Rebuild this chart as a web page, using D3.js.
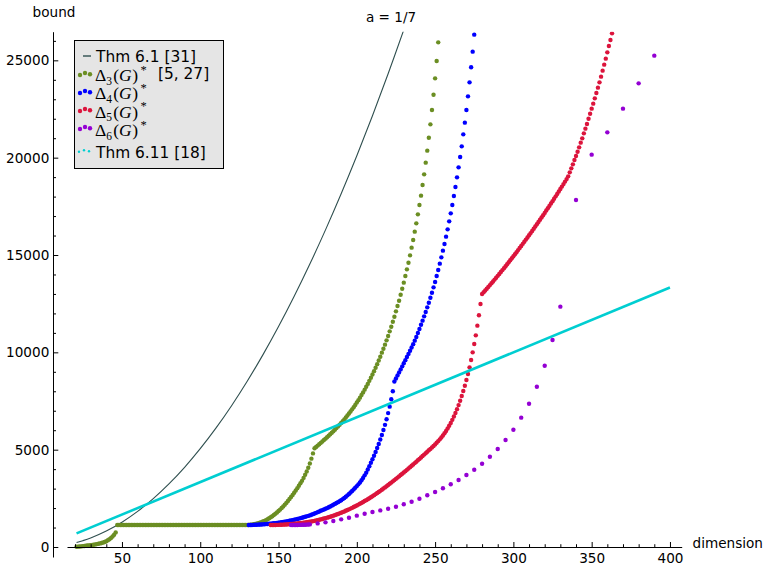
<!DOCTYPE html>
<html><head><meta charset="utf-8">
<script src="https://cdn.jsdelivr.net/npm/d3@7"></script>
<style>
body{margin:0;background:#fff}
svg{display:block}
</style>
</head><body>
<svg id="c" width="766" height="568" font-family="DejaVu Sans"></svg>
<script>
// ---------------- data ----------------
const titleText = "a = 1/7";
const xLabel = "dimension";
const yLabel = "bound";
const xTicks = [50, 100, 150, 200, 250, 300, 350, 400];
const xMinorTicks = [20,30,40,60,70,80,90,110,120,130,140,160,170,180,190,210,220,230,240,260,270,280,290,310,320,330,340,360,370,380,390];
const yTicks = [0, 5000, 10000, 15000, 20000, 25000];
const yMinorTicks = [1000,2000,3000,4000,6000,7000,8000,9000,11000,12000,13000,14000,16000,17000,18000,19000,21000,22000,23000,24000,26000];

// Thm 6.1 [31]
const thm61Dims = [21,25,30,40,50,60,70,80,90,100,110,120,130,140,150,160,170,180,190,200,210,220,230];
const thm61Vals = [231,325,465,820,1275,1830,2485,3240,4095,5050,6105,7260,8515,9870,11325,12880,14535,16290,18145,20100,22155,24310,26565];

// Thm 6.11 [18]
const thm611Dims = [21, 400];
const thm611Vals = [700, 13333];

// Delta_3(G)*  (one value per dimension, starting at delta3Start)
const delta3Start = 21;
const delta3Vals = [
15,20,25,35,45,55,65,75,85,95,105,120,135,150,165,185,205,230,260,295,345,400,465,540,630,750,
1130,1130,1130,1130,1130,1130,1130,1130,1130,1130,1130,1130,1130,1130,1130,1130,1130,1130,1130,1130,
1130,1130,1130,1130,1130,1130,1130,1130,1130,1130,1130,1130,1130,1130,1130,1130,1130,1130,1130,1130,
1130,1130,1130,1130,1130,1130,1130,1130,1130,1130,1130,1130,1130,1130,1130,1130,1130,1130,1130,1130,
1130,1130,1130,1130,1130,1130,1130,1130,1130,1130,1130,1130,1130,1130,1130,1130,1130,1130,1130,1130,
1130,1130,1130,1130,
1130,1140,1152,1166,1182,1200,1222,1247,1275,1307,1343,1383,1427,1475,1527,1583,1643,1707,1775,1847,
1923,2003,2087,2175,2267,2363,2463,2567,2675,2787,2903,3023,3147,3275,3400,3550,3710,3880,4070,4290,4540,4810,
5070,5140,5210,5280,5351,5422,5494,5567,5640,5715,5791,5869,5948,6028,6111,6195,6282,6371,6462,6556,
6653,6753,6856,6962,7071,7184,7300,7420,7544,7672,7805,7942,8083,8229,8380,8535,8696,8862,9034,9211,9394,9583,
9777,9983,10188,10394,10617,10839,11079,11318,11575,11832,12106,12380,12654,12962,13270,13579,13921,14264,14606,14983,
15377,15771,16199,16627,17089,17569,18048,18596,19144,19743,20360,21027,21712,22449,23236,24075,24966,25925
];

// Delta_4(G)*
const delta4Start = 131;
const delta4Vals = [
1130,1132,1134,1137,1140,1144,1148,1153,1159,1165,1171,1178,1185,1192,1200,1209,1218,1228,1239,1250,
1262,1274,1287,1301,1315,1330,1346,1363,1381,1400,1419,1439,1460,1482,1505,1528,1551,1575,1600,1625,
1656,1688,1721,1755,1790,
1825,1860,1895,1930,1965,2000,2040,2080,2125,2170,2215,2260,2305,2355,2405,2460,2520,2585,2655,2725,
2800,2880,2960,3045,3130,3220,3320,3430,3550,3680,3820,3980,4150,4330,4505,4690,4880,5085,5295,5520,
5755,6010,6275,6565,6880,7210,7590,8000,
8500,8660,8815,8970,9125,9280,9440,9600,9760,9920,10085,10250,10420,10600,10790,10990,11200,
11421,11627,11850,12072,12312,12551,12808,13065,13339,13613,13921,14229,14555,14880,15223,15565,15942,16319,16730,17140,
17569,18031,18493,18990,19504,20034,20582,21199,21798,22449,23151,23870,24641,25445,26319
];

// Delta_5(G)*
const delta5Start = 145;
const delta5Vals = [
1130,1131,1132,1134,1136,1139,1142,1146,1150,1155,1160,1166,1172,1179,1186,1194,1202,1211,1220,1230,
1240,1251,1262,1274,1287,1300,1314,1329,1345,1362,1380,1399,1419,1440,1462,1485,1508,1532,1557,1583,
1610,1638,1667,1697,1728,1760,1793,1827,1862,1898,1935,1973,2012,2052,2093,2135,2178,2222,2267,2313,
2360,2408,2457,2507,2558,2610,2663,2717,2772,2828,2885,2943,3002,3062,3123,
3185,3247,3310,3373,3437,3501,3566,3631,3697,3763,3830,3897,3965,4033,4102,4171,4241,4311,4382,4454,
4526,4599,4672,4746,4820,
4895,4968,5041,5116,5192,5271,5353,5440,5531,5628,5732,5843,5962,6090,6227,6374,6532,6702,6885,7081,
7291,7516,7756,8013,8287,8579,
8887,9230,9606,10000,10428,10873,11370,11903,12483,
12997,13087,13178,13269,13361,13454,13548,13642,13737,13834,13930,14027,14125,14224,14323,14423,14524,14626,14728,14831,
14935,15039,15145,15251,15358,15465,15573,15682,15792,15902,16013,16125,16237,16351,16465,16579,16695,16811,16928,17045,
17164,17283,17403,17523,17645,17767,17890,18013,18138,18263,18388,18515,18642,18770,18899,
19041,19247,19452,19658,19880,20086,20308,20531,20771,20993,21250,21490,21730,22003,22260,22517,22774,23048,23322,23596,
23870,24161,24469,24778,25086,25411,25736,26045,26387
];

// Delta_6(G)*
const delta6Dims = [158,159,160,161,162,163,164,165,166,167,168,169,170,
175,180,185,190,195,200,205,210,215,220,225,230,235,240,245,250,255,260,265,270,275,280,285,290,295,300,305,310,315,320,325,330,
340,350,360,370,380,390];
const delta6Vals = [1130,1130,1131,1132,1133,1135,1137,1140,1143,1147,1151,1156,1162,
1212,1267,1336,1421,1507,1610,1712,1800,1880,1965,2072,2200,2327,2481,2656,2825,3015,3221,3442,3699,3971,4280,4639,5034,5497,6027,6644,7362,8235,9315,10634,12346,
17825,20154,21301,22517,23819,25240];

// ---------------- drawing ----------------
const svg = d3.select("#c");
const x = d3.scaleLinear().domain([14.9, 407.5]).range([67, 681.7]);
const y = d3.scaleLinear().domain([-513, 26471]).range([557, 31.7]);
const AX = 53;              // pixel where the vertical axis sits
const AY = y(0);

svg.append("defs").append("clipPath").attr("id", "plotclip")
  .append("rect").attr("x", AX).attr("y", y.range()[1]).attr("width", 640).attr("height", y.range()[0] - y.range()[1]);

const plot = svg.append("g").attr("clip-path", "url(#plotclip)");

// Thm 6.1 line
plot.append("path")
  .datum(thm61Dims.map((d, i) => [d, thm61Vals[i]]))
  .attr("fill", "none").attr("stroke", "#2f4f4f").attr("stroke-width", 1.1)
  .attr("d", d3.line().x(d => x(d[0])).y(d => y(d[1])).curve(d3.curveCatmullRom));

function dots(dims, vals, color, r) {
  plot.append("g").selectAll("circle")
    .data(dims.map((d, i) => [d, vals[i]]))
    .join("circle")
    .attr("cx", d => x(d[0])).attr("cy", d => y(d[1])).attr("r", r).attr("fill", color);
}
const seq = (start, vals) => vals.map((v, i) => start + i);
dots(seq(delta3Start, delta3Vals), delta3Vals, "#6b8e23", 2.2);
dots(seq(delta4Start, delta4Vals), delta4Vals, "#0000ff", 2.2);
dots(seq(delta5Start, delta5Vals), delta5Vals, "#dc143c", 2.2);
dots(delta6Dims, delta6Vals, "#9400d3", 2.2);

// Thm 6.11
plot.append("path")
  .datum(thm611Dims.map((d, i) => [d, thm611Vals[i]]))
  .attr("fill", "none").attr("stroke", "#00ced1").attr("stroke-width", 2.6)
  .attr("d", d3.line().x(d => x(d[0])).y(d => y(d[1])));

// axes
const fs = "13.6px";
const fmt = d3.format("d");
svg.append("g").attr("transform", `translate(0,${AY})`)
  .call(d3.axisBottom(x).tickValues(xTicks).tickFormat(fmt).tickSize(-5).tickPadding(6.3).tickSizeOuter(0));
svg.append("g").attr("transform", `translate(0,${AY})`)
  .call(d3.axisBottom(x).tickValues(xMinorTicks).tickSize(-2.8).tickFormat("").tickSizeOuter(0))
  .select(".domain").remove();
svg.append("g").attr("transform", `translate(${AX},0)`)
  .call(d3.axisLeft(y).tickValues(yTicks).tickFormat(fmt).tickSize(-5.3).tickPadding(3.7).tickSizeOuter(0));
svg.append("g").attr("transform", `translate(${AX},0)`)
  .call(d3.axisLeft(y).tickValues(yMinorTicks).tickSize(-3).tickFormat("").tickSizeOuter(0))
  .select(".domain").remove();
svg.selectAll(".tick text").attr("font-family", "DejaVu Sans").attr("font-size", fs).attr("fill", "#000");
svg.selectAll(".domain, .tick line").attr("stroke", "#000").attr("stroke-width", 1);

// labels
svg.append("text").attr("x", 54).attr("y", 17).attr("text-anchor", "middle").attr("font-size", fs).text(yLabel);
svg.append("text").attr("x", 692.5).attr("y", 548).attr("font-size", fs).text(xLabel);
svg.append("text").attr("x", 391).attr("y", 22).attr("text-anchor", "middle").attr("font-size", fs).text(titleText);

// legend
const lg = svg.append("g");
lg.append("rect").attr("x", 74.5).attr("y", 40.5).attr("width", 149).attr("height", 128)
  .attr("fill", "#e5e5e5").attr("stroke", "#000").attr("stroke-width", 1);
const LF = "15.4px";
function legendDots(cy, color, r) {
  [[80, 1], [85, -1], [90, 0.3]].forEach(([cx, off]) =>
    lg.append("circle").attr("cx", cx).attr("cy", cy + off).attr("r", r).attr("fill", color));
}
// row 1
lg.append("line").attr("x1", 83).attr("x2", 91).attr("y1", 56).attr("y2", 56).attr("stroke", "#2f4f4f").attr("stroke-width", 1.4);
lg.append("text").attr("x", 96).attr("y", 61.5).attr("font-size", LF).text("Thm 6.1 [31]");
// delta rows
const deltaRows = [
  {sub: "3", extra: "[5, 27]", color: "#6b8e23", base: 81, dy: 74},
  {sub: "4", extra: "", color: "#0000ff", base: 99.3, dy: 92},
  {sub: "5", extra: "", color: "#dc143c", base: 117.6, dy: 110},
  {sub: "6", extra: "", color: "#9400d3", base: 136, dy: 128}
];
deltaRows.forEach(r => {
  legendDots(r.dy, r.color, 2.2);
  const t = lg.append("text").attr("x", 95).attr("y", r.base)
    .attr("font-family", "Liberation Serif").attr("font-size", "17.5px");
  t.append("tspan").text("\u0394");
  t.append("tspan").attr("font-size", "11.5px").attr("dy", 3.5).text(r.sub);
  t.append("tspan").attr("dy", -3.5).attr("dx", 1.2).text("(");
  t.append("tspan").attr("font-style", "italic").text("G");
  t.append("tspan").attr("dx", 0.5).text(")");
  t.append("tspan").attr("font-size", "12.5px").attr("dy", -7.5).attr("dx", 2.5).text("*");
  if (r.extra) {
    lg.append("text").attr("x", 158).attr("y", 78.5).attr("font-size", LF).text(r.extra);
  }
});
// last row
[[79, 0.8], [84, -0.8], [89, 0.3]].forEach(([cx, off]) =>
  lg.append("circle").attr("cx", cx).attr("cy", 151 + off).attr("r", 1.2).attr("fill", "#00ced1"));
lg.append("text").attr("x", 96).attr("y", 157.5).attr("font-size", LF).text("Thm 6.11 [18]");
</script>
</body></html>
